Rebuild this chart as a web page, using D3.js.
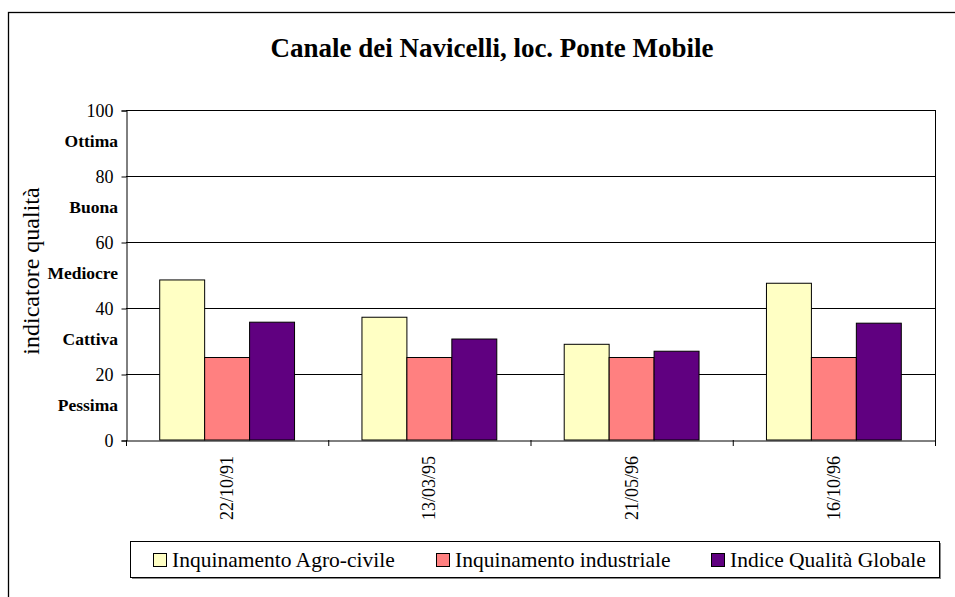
<!DOCTYPE html>
<html>
<head>
<meta charset="utf-8">
<script src="https://cdn.jsdelivr.net/npm/d3@7"></script>
<style>
  body { margin: 0; background: #fff; }
  text { font-family: "Liberation Serif", "Times New Roman", serif; }
</style>
</head>
<body>
<script>
// data
var dates = ["22/10/91", "13/03/95", "21/05/96", "16/10/96"];
var seriesNames = ["Inquinamento Agro-civile", "Inquinamento industriale", "Indice Qualità Globale"];
var agroCivile = [48.5, 37.2, 29.0, 47.5];
var industriale = [25, 25, 25, 25];
var qualitaGlobale = [35.7, 30.6, 26.9, 35.4];
var yTicks = [0, 20, 40, 60, 80, 100];
var classLabels = [{ v: 90, t: "Ottima" }, { v: 70, t: "Buona" }, { v: 50, t: "Mediocre" }, { v: 30, t: "Cattiva" }, { v: 10, t: "Pessima" }];
var colors = ["#FFFFC4", "#FF8080", "#600080"];

var width = 955, height = 597;
var svg = d3.select("body").append("svg").attr("width", width).attr("height", height);

// outer chart frame (runs off the right / bottom edge)
svg.append("rect").attr("x", 8.5).attr("y", 12.5).attr("width", 1000).attr("height", 700)
  .attr("fill", "none").attr("stroke", "#000").attr("stroke-width", 1.3);

svg.append("text").attr("x", 492).attr("y", 57).attr("text-anchor", "middle")
  .style("font-size", "27px").style("font-weight", "bold").text("Canale dei Navicelli, loc. Ponte Mobile");

var pLeft = 126, pRight = 935, pTop = 110, pBottom = 440;

var x = d3.scaleBand().domain(dates).range([pLeft, pRight]);
var xs = d3.scaleBand().domain(d3.range(3)).range([0, x.bandwidth()]).paddingOuter(0.75);
var y = d3.scaleLinear().domain([0, 100]).range([pBottom, pTop]);

// gridlines
svg.append("g").selectAll("line").data(yTicks.slice(1)).enter().append("line")
  .attr("x1", pLeft).attr("x2", pRight).attr("y1", function (d) { return y(d) + 0.5; }).attr("y2", function (d) { return y(d) + 0.5; })
  .attr("stroke", "#000").attr("stroke-width", 1);
svg.append("line").attr("x1", pRight + 0.5).attr("x2", pRight + 0.5).attr("y1", pTop).attr("y2", pBottom)
  .attr("stroke", "#000");

// bars
var series = [agroCivile, industriale, qualitaGlobale];
var groups = svg.append("g").selectAll("g").data(dates).enter().append("g")
  .attr("transform", function (d) { return "translate(" + x(d) + ",0)"; });
groups.selectAll("rect").data(function (d, i) { return series.map(function (s, j) { return { k: j, v: s[i] }; }); })
  .enter().append("rect")
  .attr("x", function (d) { return xs(d.k); })
  .attr("y", function (d) { return y(d.v); })
  .attr("width", xs.bandwidth())
  .attr("height", function (d) { return pBottom - y(d.v); })
  .attr("fill", function (d) { return colors[d.k]; })
  .attr("stroke", "#000").attr("stroke-width", 1);

// y axis
var yAxis = svg.append("g").attr("transform", "translate(" + (pLeft + 0.5) + ",0.5)")
  .call(d3.axisLeft(y).tickValues(yTicks).tickSize(5).tickPadding(8));
yAxis.select(".domain").attr("stroke", "#000");
yAxis.selectAll(".tick line").attr("stroke", "#000");
yAxis.selectAll("text").style("font-size", "18px").style("font-family", "'Liberation Serif', serif").attr("fill", "#000");

svg.append("g").selectAll("text").data(classLabels).enter().append("text")
  .attr("x", 118).attr("y", function (d) { return y(d.v) + 4; }).attr("text-anchor", "end")
  .style("font-size", "17.5px").style("font-weight", "bold").text(function (d) { return d.t; });

svg.append("text").attr("transform", "translate(39," + 271 + ") rotate(-90)")
  .attr("text-anchor", "middle").style("font-size", "24px").text("indicatore qualità");

// x axis
var xAxis = svg.append("g").attr("transform", "translate(0," + (pBottom + 0.5) + ")")
  .call(d3.axisBottom(x).tickSize(0).tickPadding(0));
xAxis.select(".domain").attr("stroke", "#000");
xAxis.selectAll("text").remove();
svg.append("g").selectAll("line").data(x.domain().map(function (d) { return x(d); }).concat([pRight]))
  .enter().append("line")
  .attr("x1", function (d) { return d + 0.5; }).attr("x2", function (d) { return d + 0.5; })
  .attr("y1", pBottom).attr("y2", pBottom + 6).attr("stroke", "#000");
svg.append("g").selectAll("text").data(dates).enter().append("text")
  .attr("transform", function (d) { return "translate(" + (x(d) + x.bandwidth() / 2 + 6) + "," + (pBottom + 16) + ") rotate(-90)"; })
  .attr("text-anchor", "end").style("font-size", "18px").text(function (d) { return d; });

// legend
var lg = svg.append("g");
lg.append("rect").attr("x", 132).attr("y", 543).attr("width", 809).attr("height", 36).attr("fill", "#888");
lg.append("rect").attr("x", 130.5).attr("y", 541.5).attr("width", 809).attr("height", 36)
  .attr("fill", "#fff").attr("stroke", "#000");
var legendX = [153, 436, 711];
var items = lg.selectAll("g.item").data(seriesNames).enter().append("g").attr("class", "item")
  .attr("transform", function (d, i) { return "translate(" + legendX[i] + ",553)"; });
items.append("rect").attr("x", 0.5).attr("y", 0.5).attr("width", 13).attr("height", 13)
  .attr("fill", function (d, i) { return colors[i]; }).attr("stroke", "#000");
items.append("text").attr("x", 19).attr("y", 14).style("font-size", "21.5px").text(function (d) { return d; });
</script>
</body>
</html>
